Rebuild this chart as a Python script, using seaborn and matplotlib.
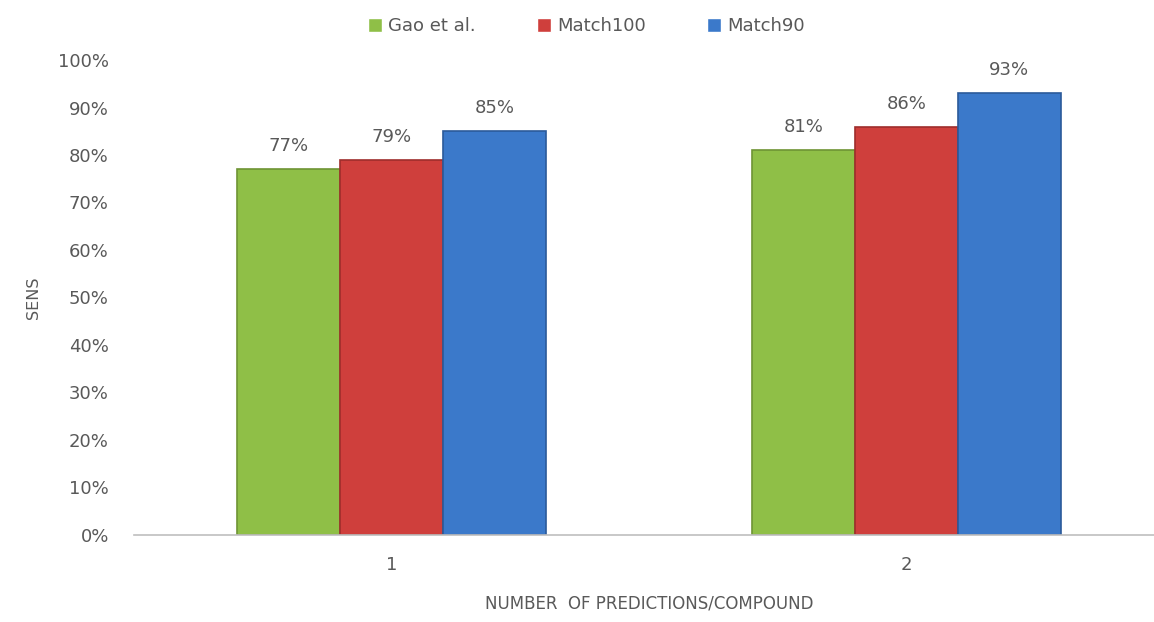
import pandas as pd
import matplotlib.pyplot as plt
import seaborn as sns

sns.set_style("white")
plt.rcParams['font.family'] = ['DejaVu Sans']

# data
groups = ['1', '2']
methods = ['Gao et al.', 'Match100', 'Match90']
gao = [77, 81]
match100 = [79, 86]
match90 = [85, 93]

df = pd.DataFrame({
    'group': groups * 3,
    'method': [methods[0]] * 2 + [methods[1]] * 2 + [methods[2]] * 2,
    'sens': gao + match100 + match90,
})

colors = ['#8FBF47', '#CF3F3C', '#3B79CA']
edges = ['#6E9434', '#9E2E2C', '#2B5A9A']
grey = '#595959'

fig = plt.figure(figsize=(11.54, 6.22), dpi=100)
ax = fig.add_axes([0.116, 0.14, 0.8925, 0.7635])

sns.barplot(data=df, x='group', y='sens', hue='method', hue_order=methods,
            palette=colors, saturation=1, width=0.6, ax=ax, legend=True)

# darker outline per series
for cont, ec in zip(ax.containers, edges):
    for bar in cont:
        bar.set_edgecolor(ec)
        bar.set_linewidth(1.2)
    ax.bar_label(cont, labels=[f'{v:.0f}%' for v in cont.datavalues],
                 padding=10, fontsize=13, color=grey)

ax.set_ylim(0, 100)
ax.set_xlim(-0.5, 1.5)
ax.set_yticks(range(0, 101, 10))
ax.set_yticklabels([f'{t}%' for t in range(0, 101, 10)])
ax.tick_params(axis='both', labelsize=13, colors=grey, length=0)
ax.tick_params(axis='y', pad=18)
ax.tick_params(axis='x', pad=15)

sns.despine(ax=ax, left=True)
ax.spines['bottom'].set_color('#BFBFBF')
ax.spines['bottom'].set_linewidth(1.2)

ax.set_ylabel('SENS', fontsize=11.5, color=grey, labelpad=12)
ax.set_xlabel('NUMBER  OF PREDICTIONS/COMPOUND', fontsize=12, color=grey, labelpad=15)

ax.legend(loc='center', bbox_to_anchor=(0.508, 0.958), bbox_transform=fig.transFigure,
          ncol=3, frameon=False, fontsize=13, handlelength=0.8, handleheight=0.8,
          handletextpad=0.3, columnspacing=3.4, labelcolor=grey)

plt.savefig('out.png', dpi=100)
